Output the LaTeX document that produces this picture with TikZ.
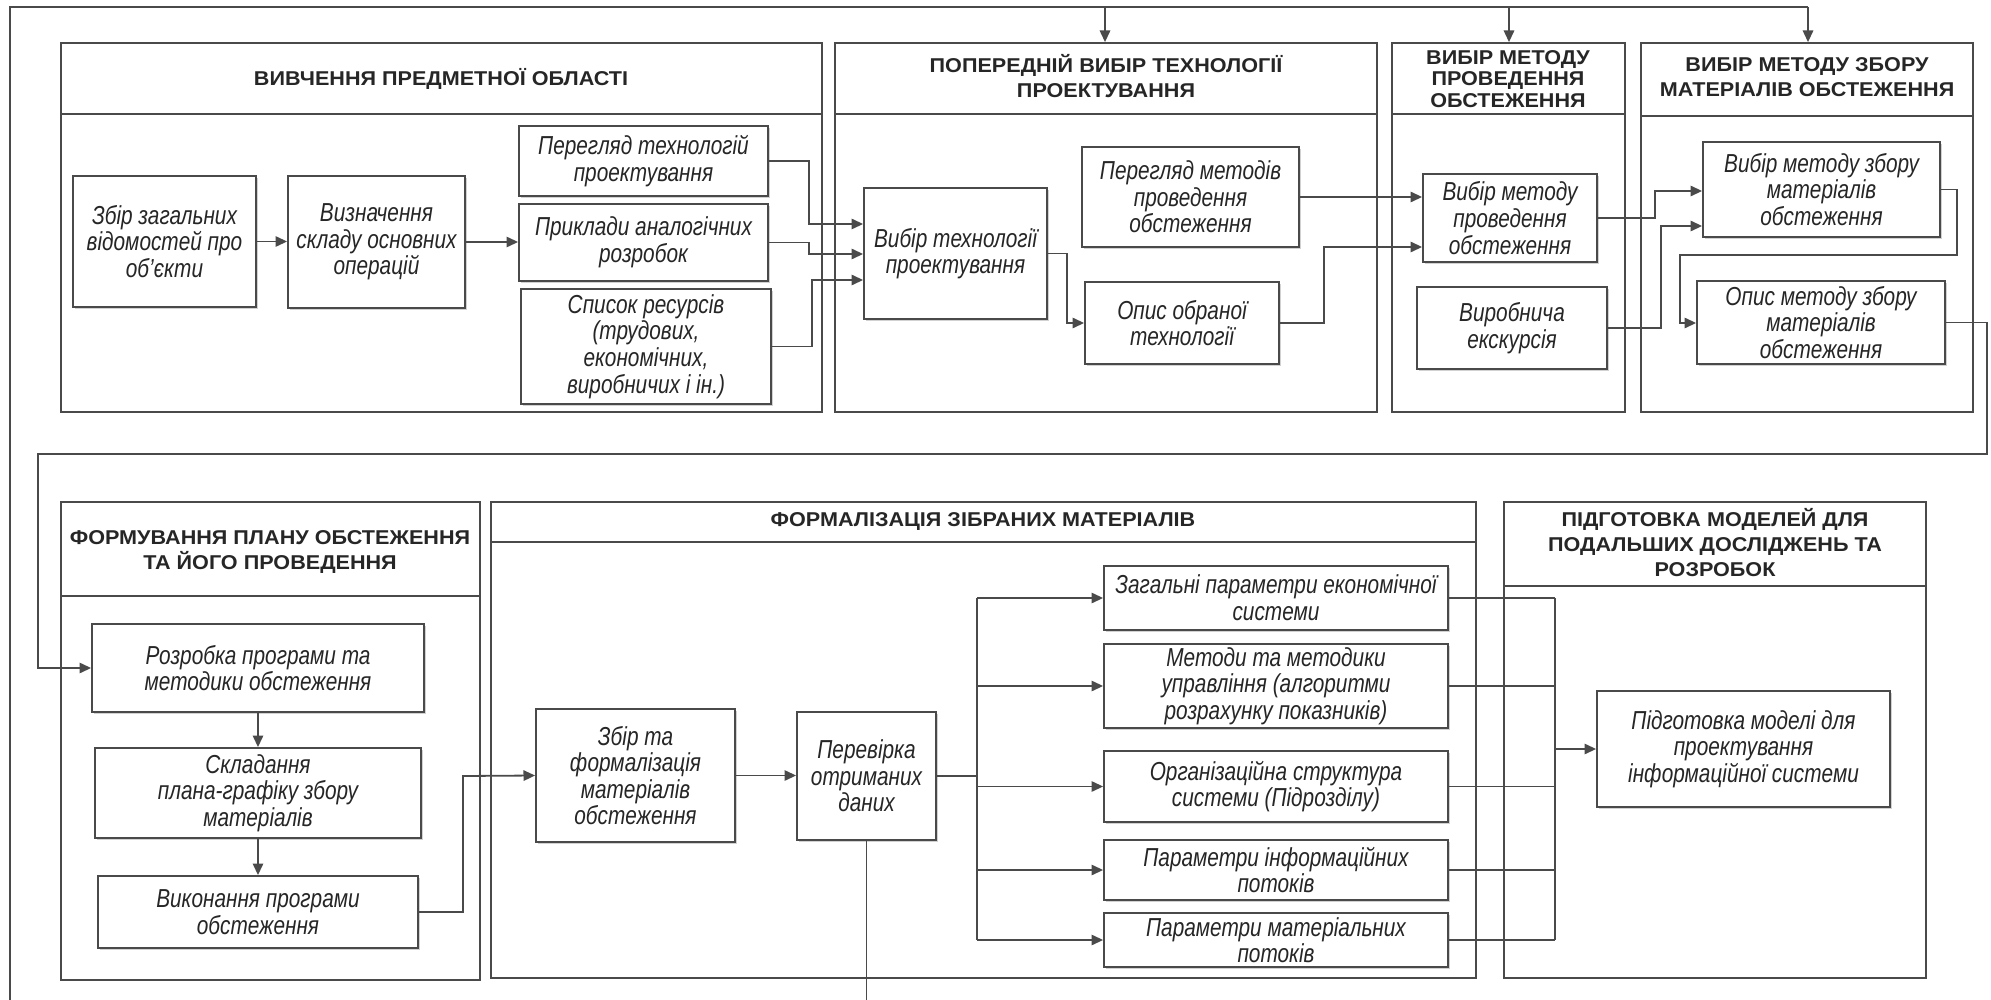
\documentclass[tikz,border=0pt]{standalone}
\usepackage{fontspec}
\setmainfont{Liberation Sans}
\newfontfamily\boxfont{Liberation Sans}[FakeStretch=0.8]
\newfontfamily\ttlfont{Liberation Sans}[FakeStretch=1.08]
\usetikzlibrary{arrows.meta,shadows,fit}
\definecolor{lnc}{HTML}{4A4A4A}
\definecolor{txc}{HTML}{262626}
\begin{document}
\begin{tikzpicture}[x=0.5pt,y=-0.5pt,
  panel/.style={draw=lnc, line width=0.9pt, fill=white, inner sep=0pt},
  box/.style={draw=lnc, line width=0.9pt, fill=white, inner sep=0pt, align=center,
    font=\boxfont\fontsize{13}{13.3}\selectfont\itshape, text=txc,
    drop shadow={shadow xshift=1.2pt, shadow yshift=-1.2pt, opacity=0.18, fill=black}},
  sz/.style 2 args={minimum width=#1pt, minimum height=#2pt},
  ttl/.style={font=\ttlfont\fontsize{10}{12.5}\selectfont\bfseries, text=txc, align=center},
  lnk/.style={draw=lnc, line width=0.9pt},
  arr/.style={draw=lnc, line width=0.9pt, -{Triangle[length=5.8pt,width=5.2pt]}}]
\useasboundingbox[fill=white] (0,0) rectangle (1991,1000);

% ---------- panels, row 1
\node[panel, fit={(61,43)(822,412)}] (p1) {};
\draw[lnk] (p1.west |- 0,114) -- (p1.east |- 0,114);
\node[ttl] (t1) at (441,79) {ВИВЧЕННЯ ПРЕДМЕТНОЇ ОБЛАСТІ};

\node[panel, fit={(835,43)(1377,412)}] (p2) {};
\draw[lnk] (p2.west |- 0,114) -- (p2.east |- 0,114);
\node[ttl] (t2) at (1106,76) {ПОПЕРЕДНІЙ ВИБІР ТЕХНОЛОГІЇ\\ПРОЕКТУВАННЯ};

\node[panel, fit={(1392,43)(1625,412)}] (p3) {};
\draw[lnk] (p3.west |- 0,114) -- (p3.east |- 0,114);
\node[ttl, font=\ttlfont\fontsize{10}{10.8}\selectfont\bfseries] (t3) at (1508,79) {ВИБІР МЕТОДУ\\ПРОВЕДЕННЯ\\ОБСТЕЖЕННЯ};

\node[panel, fit={(1641,43)(1973,412)}] (p4) {};
\draw[lnk] (p4.west |- 0,116) -- (p4.east |- 0,116);
\node[ttl] (t4) at (1807,77) {ВИБІР МЕТОДУ ЗБОРУ\\МАТЕРІАЛІВ ОБСТЕЖЕННЯ};

% ---------- panels, row 2
\node[panel, fit={(61,502)(480,980)}] (p5) {};
\draw[lnk] (p5.west |- 0,596) -- (p5.east |- 0,596);
\node[ttl] (t5) at (270,552) {ФОРМУВАННЯ ПЛАНУ ОБСТЕЖЕННЯ\\ТА ЙОГО ПРОВЕДЕННЯ};

\node[panel, fit={(491,502)(1476,978)}] (p6) {};
\draw[lnk] (p6.west |- 0,542) -- (p6.east |- 0,542);
\node[ttl] (t6) at (983,522) {ФОРМАЛІЗАЦІЯ ЗІБРАНИХ МАТЕРІАЛІВ};

\node[panel, fit={(1504,502)(1926,978)}] (p7) {};
\draw[lnk] (p7.west |- 0,586) -- (p7.east |- 0,586);
\node[ttl] (t7) at (1715,543) {ПІДГОТОВКА МОДЕЛЕЙ ДЛЯ\\ПОДАЛЬШИХ ДОСЛІДЖЕНЬ ТА\\РОЗРОБОК};

% ---------- boxes
\node[box, sz={91.5}{65.5}] (zbir) at (164.5,241.5) {Збір загальних\\відомостей про\\об’єкти};
\node[box, sz={88.5}{66}] (vyzn) at (376.5,242) {Визначення\\складу основних\\операцій};
\node[box, sz={124.5}{35}] (perehl) at (643.5,161) {Перегляд технологій\\проектування};
\node[box, sz={124.5}{38.5}] (prykl) at (643.5,242.5) {Приклади аналогічних\\розробок};
\node[box, sz={125}{57.5}] (spysok) at (646,346.5) {Список ресурсів\\(трудових,\\економічних,\\виробничих і ін.)};
\node[box, sz={91.5}{65.5}] (vybirtech) at (955.5,253.5) {Вибір технології\\проектування};
\node[box, sz={108.5}{50}] (perehlmet) at (1190.5,197) {Перегляд методів\\проведення\\обстеження};
\node[box, sz={97}{41}] (opystech) at (1182,323) {Опис обраної\\технології};
\node[box, sz={87}{44}] (vybirmet) at (1510,218) {Вибір методу\\проведення\\обстеження};
\node[box, sz={95}{41}] (vyrob) at (1512,328) {Виробнича\\екскурсія};
\node[box, sz={118.5}{47.5}] (vybirzb) at (1821.5,189.5) {Вибір методу збору\\матеріалів\\обстеження};
\node[box, sz={124}{41.5}] (opyszb) at (1821,322.5) {Опис методу збору\\матеріалів\\обстеження};

\node[box, sz={166}{44}] (rozrob) at (258,668) {Розробка програми та\\методики обстеження};
\node[box, sz={163}{45}] (sklad) at (258,793) {Складання\\плана-графіку збору\\матеріалів};
\node[box, sz={160}{36}] (vykon) at (258,912) {Виконання програми\\обстеження};
\node[box, sz={99.5}{66.5}] (zbirform) at (635.5,775.5) {Збір та\\формалізація\\матеріалів\\обстеження};
\node[box, sz={69.5}{64}] (perev) at (866.5,776) {Перевірка\\отриманих\\даних};
\node[box, sz={172}{32}] (zahal) at (1276,598) {Загальні параметри економічної\\системи};
\node[box, sz={172}{42}] (metody) at (1276,686) {Методи та методики\\управління (алгоритми\\розрахунку показників)};
\node[box, sz={172}{35.5}] (orgstr) at (1276,786.5) {Організаційна структура\\системи (Підрозділу)};
\node[box, sz={172}{30}] (parinf) at (1276,870) {Параметри інформаційних\\потоків};
\node[box, sz={172}{27}] (parmat) at (1276,940) {Параметри матеріальних\\потоків};
\node[box, sz={146.5}{58}] (pidg) at (1743.5,749) {Підготовка моделі для\\проектування\\інформаційної системи};

% ---------- outer loop
\coordinate (lb) at (10,1000);
\coordinate (lt) at (10,7);
\draw[lnk] (perev.south) -- (perev.south |- lb);
\draw[lnk] (lb) -- (lt) -- (1808,7);
\draw[arr] (1105,7) -- (1105,7 |- p2.north);
\draw[arr] (1509,7) -- (1509,7 |- p3.north);
\draw[arr] (1808,7) -- (1808,7 |- p4.north);

% ---------- row 1 connectors
\draw[arr] (zbir.east) -- (vyzn.west |- zbir.east);
\draw[arr] (vyzn.east) -- (prykl.west |- vyzn.east);
\draw[arr] (perehl.east) -| (809,224) -- (vybirtech.west |- 0,224);
\draw[arr] (prykl.east) -| (809,254) -- (vybirtech.west |- 0,254);
\draw[arr] (spysok.east) -| (812,280) -- (vybirtech.west |- 0,280);
\draw[arr] (vybirtech.east) -| (1067,323) -- (opystech.west);
\draw[arr] (perehlmet.east) -- (vybirmet.west |- perehlmet.east);
\draw[arr] (opystech.east) -| (1324,247) -- (vybirmet.west |- 0,247);
\draw[arr] (vybirmet.east) -| (1655,191) -- (vybirzb.west |- 0,191);
\draw[arr] (vyrob.east) -| (1661,226) -- (vybirzb.west |- 0,226);
\draw[arr] (vybirzb.east) -| (1957,255) -| (1680,323) -- (opyszb.west |- 0,323);
\draw[arr] (opyszb.east) -| (1987,454) -| (38,668) -- (rozrob.west);

% ---------- row 2 connectors
\draw[arr] (rozrob.south) -- (sklad.north);
\draw[arr] (sklad.south) -- (vykon.north);
\draw[arr] (vykon.east) -| (463,776) -- (zbirform.west);
\draw[arr] (zbirform.east) -- (perev.west |- zbirform.east);
\coordinate (bl) at (977,776);
\draw[lnk] (perev.east) -- (bl);
\draw[lnk] (977,598) -- (977,940);
\foreach \n in {zahal,metody,orgstr,parinf,parmat}
  \draw[arr] (bl |- \n.west) -- (\n.west);
\foreach \n in {zahal,metody,orgstr,parinf,parmat}
  \draw[lnk] (\n.east) -- (1555,0 |- \n.east);
\draw[lnk] (1555,0 |- zahal.east) -- (1555,0 |- parmat.east);
\draw[arr] (1555,0 |- pidg.west) -- (pidg.west);
\end{tikzpicture}
\end{document}
